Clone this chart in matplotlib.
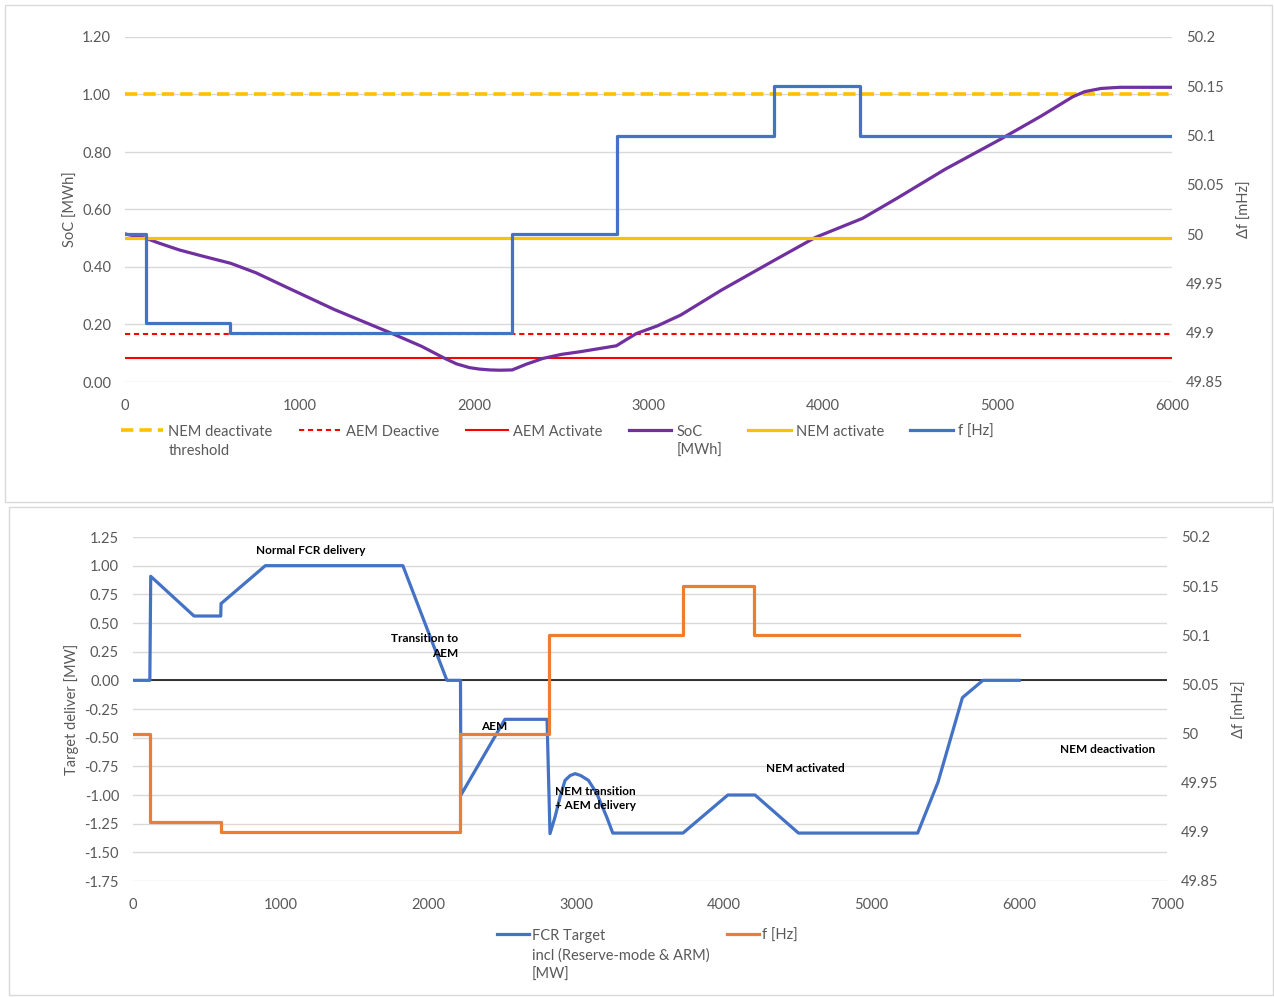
import matplotlib
matplotlib.use("Agg")
import matplotlib.pyplot as plt
from matplotlib.patches import Rectangle
from matplotlib.ticker import FuncFormatter

plt.rcParams['font.family'] = ['Lato', 'DejaVu Sans']

# ---------------- data: top chart ----------------
soc_t = [0, 119, 200, 313, 450, 605, 750, 921, 1200, 1529, 1700, 1833, 1900, 1974,
         2030, 2091, 2150, 2219, 2300, 2395, 2500, 2605, 2816, 2880, 2932, 3050,
         3185, 3419, 3723, 3957, 4226, 4424, 4700, 5010, 5250, 5431, 5500, 5593,
         5700, 6000]
soc_v = [0.515, 0.50, 0.482, 0.459, 0.437, 0.413, 0.380, 0.331, 0.252, 0.169, 0.124,
         0.082, 0.063, 0.050, 0.045, 0.042, 0.041, 0.042, 0.062, 0.082, 0.096, 0.105,
         0.126, 0.150, 0.169, 0.195, 0.233, 0.320, 0.424, 0.503, 0.569, 0.639, 0.740,
         0.842, 0.925, 0.992, 1.010, 1.021, 1.025, 1.025]
nem_deactivate = 1.00
nem_activate = 0.50
aem_deactive = 0.167
aem_activate = 0.083
f_top_t = [0, 120, 600, 2220, 2820, 3720, 4210, 6000]
f_top_v = [50.0, 49.91, 49.9, 50.0, 50.1, 50.15, 50.1, 50.1]

# ---------------- data: bottom chart ----------------
fcr_t = [0, 114, 120, 413, 594, 596, 896, 1827, 2125, 2217, 2220, 2518, 2803,
         2823, 2857, 2891, 2925, 2960, 2993, 3030, 3083, 3139, 3207, 3248,
         3723, 4027, 4211, 4505, 5312, 5450, 5615, 5754, 6000]
fcr_v = [0, 0, 0.907, 0.561, 0.561, 0.669, 1.0, 1.0, 0.0, 0.0, -1.0, -0.34, -0.34,
         -1.337, -1.192, -1.018, -0.872, -0.83, -0.814, -0.83, -0.872, -0.985,
         -1.192, -1.332, -1.332, -1.0, -1.0, -1.332, -1.332, -0.887, -0.151, 0.0, 0.0]
f_bot_t = [0, 115, 594, 2217, 2815, 3723, 4207, 6000]
f_bot_v = [50.0, 49.91, 49.9, 50.0, 50.1, 50.15, 50.1, 50.1]

annotations = [
    ("Normal FCR delivery", 1205, 1.134, 'center'),
    ("Transition to\nAEM", 2200, 0.30, 'right'),
    ("AEM", 2444, -0.40, 'center'),
    ("NEM transition\n+ AEM delivery", 2857, -1.03, 'left'),
    ("NEM activated", 4550, -0.767, 'center'),
    ("NEM deactivation", 6601, -0.60, 'center'),
]

BLUE = '#4472C4'
ORANGE = '#ED7D31'
PURPLE = '#7030A0'
YELLOW = '#FFC000'
RED = '#FF0000'
GRID = '#D9D9D9'
TXT = '#595959'

W, H = 1274, 997
fig = plt.figure(figsize=(W / 100, H / 100), dpi=100)


def fx(px):
    return px / W


def fy(py):
    return 1 - py / H


# panel borders
fig.add_artist(Rectangle((fx(5), fy(502)), fx(1272) - fx(5), fy(5) - fy(502),
                         transform=fig.transFigure, fill=False, edgecolor=GRID, lw=1))
fig.add_artist(Rectangle((fx(9), fy(995)), fx(1273) - fx(9), fy(507) - fy(995),
                         transform=fig.transFigure, fill=False, edgecolor=GRID, lw=1))

rfmt = FuncFormatter(lambda v, p: '{:g}'.format(round(v, 3)))


def style(ax):
    for s in ax.spines.values():
        s.set_visible(False)
    ax.tick_params(length=0, colors=TXT, labelsize=10.5, pad=10)


def fix_legend(leg, spacing):
    for t in leg.get_texts():
        t.set_linespacing(spacing)
    leg._legend_handle_box.align = 'top'
    for col in leg._legend_handle_box.get_children():
        col.align = 'left'
        for item in col.get_children():
            item.align = 'top'


# ---------------- top chart ----------------
ax1 = fig.add_axes([fx(125), fy(382), fx(1172) - fx(125), fy(37) - fy(382)])
ax1b = ax1.twinx()

ax1.set_xlim(0, 6000)
ax1.set_ylim(0, 1.2)
ax1.set_xticks(range(0, 6001, 1000))
ax1.set_yticks([0, 0.2, 0.4, 0.6, 0.8, 1.0, 1.2])
ax1.yaxis.set_major_formatter(FuncFormatter(lambda v, p: '%.2f' % v))
ax1.grid(axis='y', color=GRID, lw=1)
ax1.set_axisbelow(True)

l_nd = ax1.axhline(nem_deactivate, color=YELLOW, lw=2.6, ls=(0, (3.4, 1.7)))
l_ad = ax1.axhline(aem_deactive, color=RED, lw=1.5, ls=(0, (2.5, 1.8)))
l_aa = ax1.axhline(aem_activate, color=RED, lw=1.5)
l_soc, = ax1.plot(soc_t, soc_v, color=PURPLE, lw=2.3)
l_na = ax1.axhline(nem_activate, color=YELLOW, lw=2.3)

ax1b.set_ylim(49.85, 50.2)
ax1b.set_yticks([49.85, 49.9, 49.95, 50.0, 50.05, 50.1, 50.15, 50.2])
ax1b.yaxis.set_major_formatter(rfmt)
l_f1, = ax1b.step(f_top_t, f_top_v, where='post', color=BLUE, lw=2.3)
ax1b.set_zorder(3)
ax1.set_zorder(2)
ax1.patch.set_visible(False)

style(ax1)
style(ax1b)
ax1.tick_params(axis='x', pad=12)
ax1.set_ylabel('SoC [MWh]', color=TXT, fontsize=10.5, labelpad=3)
ax1b.set_ylabel('Δf [mHz]', color=TXT, fontsize=10.5, rotation=90, labelpad=10)

leg1 = fig.legend([l_nd, l_ad, l_aa, l_soc, l_na, l_f1],
                  ['NEM deactivate\nthreshold', 'AEM Deactive', 'AEM Activate', 'SoC\n[MWh]',
                   'NEM activate', 'f [Hz]'],
                  loc='upper left', bbox_to_anchor=(fx(121), fy(425)), ncol=6, frameon=False,
                  fontsize=10.5, labelcolor=TXT, handlelength=2.9, handletextpad=0.35,
                  columnspacing=1.8, borderpad=0, borderaxespad=0)
fix_legend(leg1, 1.45)

# ---------------- bottom chart ----------------
ax2 = fig.add_axes([fx(133), fy(881), fx(1167) - fx(133), fy(537) - fy(881)])
ax2b = ax2.twinx()
ax2.set_xlim(0, 7000)
ax2.set_ylim(-1.75, 1.25)
ax2.set_xticks(range(0, 7001, 1000))
ax2.set_yticks([-1.75 + 0.25 * i for i in range(13)])
ax2.yaxis.set_major_formatter(FuncFormatter(lambda v, p: '%.2f' % v))
ax2.grid(axis='y', color=GRID, lw=1)
ax2.set_axisbelow(True)
ax2.axhline(0, color='black', lw=1.1, zorder=1)

ax2b.set_ylim(49.85, 50.2)
ax2b.set_yticks([49.85, 49.9, 49.95, 50.0, 50.05, 50.1, 50.15, 50.2])
ax2b.yaxis.set_major_formatter(rfmt)
l_f2, = ax2b.step(f_bot_t, f_bot_v, where='post', color=ORANGE, lw=2.3, zorder=3)
l_fcr, = ax2.plot(fcr_t, fcr_v, color=BLUE, lw=2.3, zorder=2)
ax2.set_zorder(1)
ax2b.set_zorder(2)
ax2b.patch.set_visible(False)

for txt, x, y, ha in annotations:
    ax2b.text(x, y, txt, ha=ha, va='center', fontsize=8.5, fontweight='bold',
              color='black', multialignment=ha, linespacing=1.35, zorder=5,
              transform=ax2.transData)

style(ax2)
style(ax2b)
ax2.tick_params(axis='x', pad=12)
ax2.set_ylabel('Target deliver [MW]', color=TXT, fontsize=10.5, labelpad=4)
ax2b.set_ylabel('Δf [mHz]', color=TXT, fontsize=10.5, rotation=90, labelpad=10)

leg2 = fig.legend([l_fcr, l_f2], ['FCR Target\nincl (Reserve-mode & ARM)\n[MW]', 'f [Hz]'],
                  loc='upper left', bbox_to_anchor=(fx(497), fy(929)), ncol=2, frameon=False,
                  fontsize=10.5, labelcolor=TXT, handlelength=2.2, handletextpad=0.2,
                  columnspacing=1.2, borderpad=0, borderaxespad=0)
fix_legend(leg2, 1.45)

fig.savefig('out.png', dpi=100)
